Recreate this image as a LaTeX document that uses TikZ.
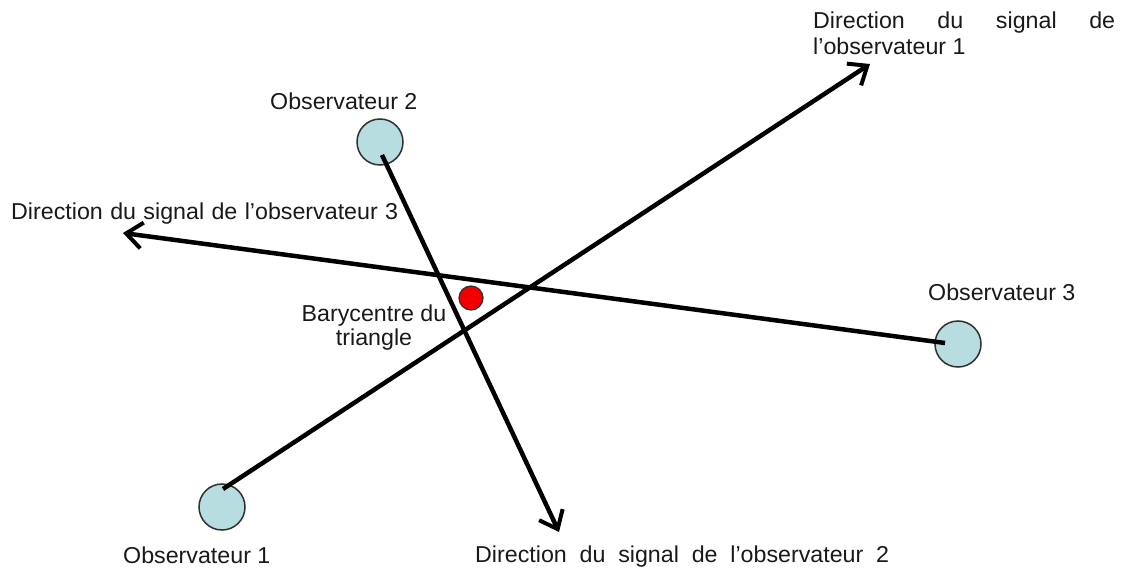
\documentclass[tikz,border=0pt]{standalone}
\usepackage{fontspec}
\setmainfont{Liberation Sans}[FakeStretch=1.01]
\usetikzlibrary{arrows.meta}
\definecolor{obsblue}{HTML}{B7DDE0}
\definecolor{rimgray}{HTML}{303030}
\definecolor{dotred}{HTML}{F00000}
\tikzset{
  observer/.style={circle, draw=rimgray, line width=1.5pt, fill=obsblue, minimum size=46pt, inner sep=0pt},
  bary/.style={circle, draw=rimgray, line width=1.2pt, fill=dotred, minimum size=24pt, inner sep=0pt},
  signal/.style={line width=4.5pt, -{Straight Barb[length=16pt,width=26pt,line width=4pt]}},
  lbl/.style={inner sep=0pt, anchor=base west, font=\fontsize{23}{25}\selectfont, text=black!90},
}
\begin{document}
\begin{tikzpicture}[x=1pt,y=-1pt]
\useasboundingbox (0,0) rectangle (1121,569);
% observers
\node[observer] (obs1) at (222,507) {};
\node[observer] (obs2) at (380,142) {};
\node[observer] (obs3) at (958,344) {};
% signal start points (inside the circles) and tips
\coordinate (s1) at (223,489);
\coordinate (t1) at (870,64);
\coordinate (s2) at (382,155);
\coordinate (t2) at (559,532);
\coordinate (s3) at (945,343);
\coordinate (t3) at (123,233);
\draw[signal] (s1) -- (t1);
\draw[signal] (s2) -- (t2);
\draw[signal] (s3) -- (t3);
% barycentre
\node[bary] (bc) at (471,298) {};
% labels
\node[lbl] (l1) at (813,29) {\makebox[302pt][s]{Direction du signal de}};
\node[lbl] (l1b) at (813,55) {l’observateur 1};
\node[lbl] (lo2) at (270,110) {Observateur 2};
\node[lbl] (l3) at (11,220) {\makebox[387pt][s]{Direction du signal de l’observateur 3}};
\node[lbl] (lo3) at (928,300) {Observateur 3};
\node[inner sep=0pt, anchor=base, align=center, font=\fontsize{23}{24}\selectfont, text=black!90] (lb) at (374,345) {Barycentre du\\triangle};
\node[lbl] (lo1) at (123,563) {Observateur 1};
\node[lbl] (l2) at (475,562) {\makebox[414pt][s]{Direction du signal de l’observateur 2}};
\end{tikzpicture}
\end{document}
